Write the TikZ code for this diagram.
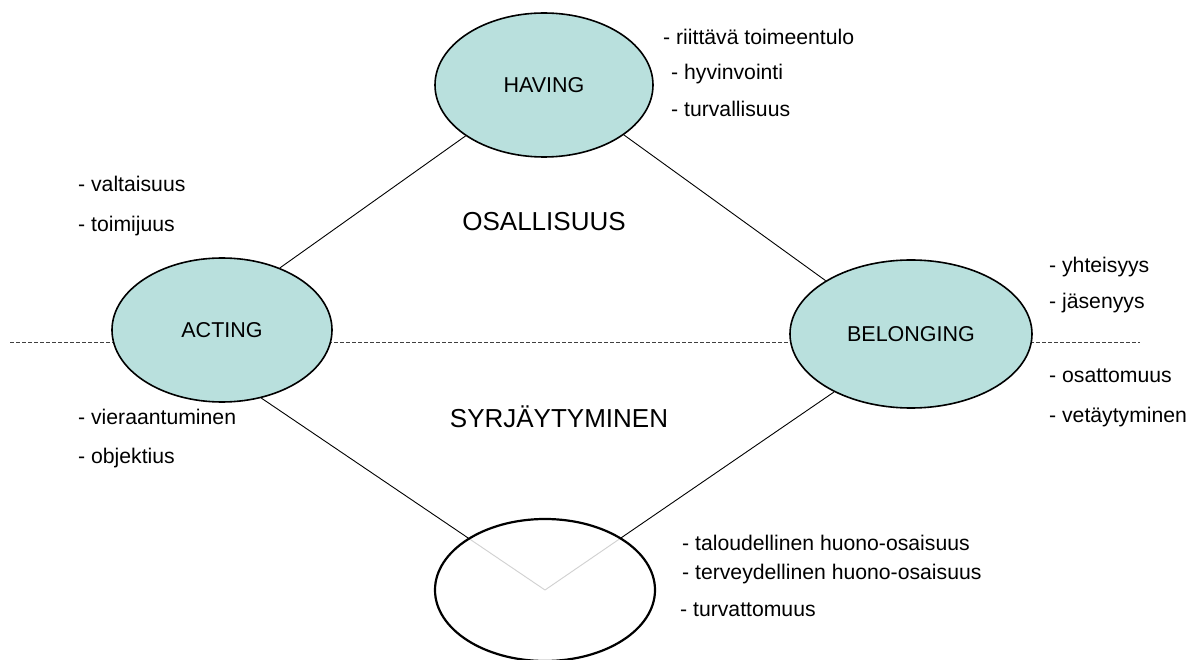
\documentclass[tikz,border=0pt]{standalone}
\usepackage{fontspec}
\setmainfont{Liberation Sans}
\usetikzlibrary{shapes.geometric,backgrounds}
\definecolor{teal}{RGB}{185,224,221}
\begin{document}
\begin{tikzpicture}[x=1pt,y=-1pt,
  oval/.style={ellipse,draw=black,line width=1.6pt,fill=teal,inner sep=0pt,
    font=\fontsize{21.5}{25}\selectfont},
  item/.style={anchor=west,inner sep=0pt,font=\fontsize{21.2}{25}\selectfont},
  big/.style={inner sep=0pt,font=\fontsize{26}{30}\selectfont},
  link/.style={draw=black,line width=0.9pt},
  divider/.style={draw=black!75,line width=0.9pt,dash pattern=on 4pt off 2pt}]
\useasboundingbox (0,0) rectangle (1187,660);

\node[oval,minimum width=218pt,minimum height=144pt] (having) at (544,85) {HAVING};
\node[oval,minimum width=220pt,minimum height=144pt] (acting) at (222,330) {ACTING};
\node[oval,minimum width=242pt,minimum height=148pt] (belonging) at (911,334) {BELONGING};
\node[ellipse,draw=black,line width=2.2pt,fill=white,fill opacity=0.82,inner sep=0pt,
  minimum width=220pt,minimum height=142pt] (bottom) at (545,590) {};

\coordinate (dl) at (10,342);
\coordinate (dr) at (1140,342);

\begin{scope}[on background layer]
  \draw[divider] (dl) -- (dr);
  \draw[link] (acting.47) -- (having.213);
  \draw[link] (having.-32) -- (belonging.148);
  \draw[link] (acting.-60) -- (bottom.center);
  \draw[link] (bottom.center) -- (belonging.217);
\end{scope}

\node[big] (osal) at (544,222) {OSALLISUUS};
\node[big] (syrj) at (559,417) {SYRJÄYTYMINEN};

\node[item] (h1) at (663,37) {- riittävä toimeentulo};
\node[item] (h2) at (671,74) {- hyvinvointi};
\node[item] (h3) at (671,109) {- turvallisuus};

\node[item] (a1) at (78,184) {- valtaisuus};
\node[item] (a2) at (78,226) {- toimijuus};
\node[item] (a3) at (78,417) {- vieraantuminen};
\node[item] (a4) at (78,458) {- objektius};

\node[item] (b1) at (1049,267) {- yhteisyys};
\node[item] (b2) at (1049,303) {- jäsenyys};
\node[item] (b3) at (1049,376) {- osattomuus};
\node[item] (b4) at (1049,417) {- vetäytyminen};

\node[item] (c1) at (682,543) {- taloudellinen huono-osaisuus};
\node[item] (c2) at (682,574) {- terveydellinen huono-osaisuus};
\node[item] (c3) at (680,610) {- turvattomuus};
\end{tikzpicture}
\end{document}
